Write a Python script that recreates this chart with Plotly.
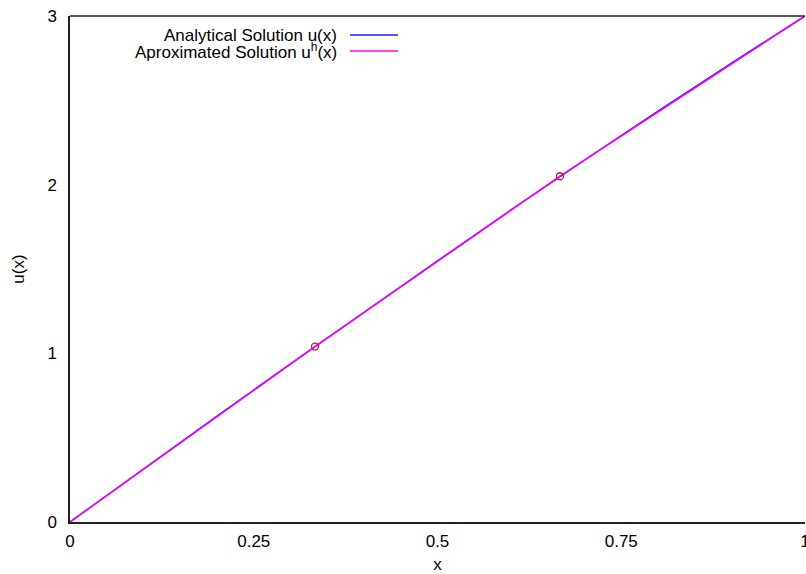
import plotly.graph_objects as go

x_exact = [0.0, 0.1, 0.2, 0.3, 1/3, 0.4, 0.5, 0.6, 2/3, 0.7, 0.8, 0.9, 1.0]
u_exact = [0.0, 0.315, 0.628, 0.938, 1.040, 1.244, 1.548, 1.850, 2.050, 2.146, 2.436, 2.721, 3.0]

# Finite element nodal solution
x_nodes = [0.0, 1/3, 2/3, 1.0]
u_nodes = [0.0, 1.040, 2.050, 3.0]

# Interior node markers
x_marks = [1/3, 2/3]
u_marks = [1.040, 2.050]

x_ticks = [0, 0.25, 0.5, 0.75, 1]
x_ticktext = ["0", "0.25", "0.5", "0.75", "1"]
y_ticks = [0, 1, 2, 3]

FONT = "Liberation Sans, Arial, Helvetica, sans-serif"
FS = 17

L, R, T, B = 70, 1, 16, 52
W, H = 806, 574
PW = W - L - R
PH = H - T - B

fig = go.Figure()
fig.add_trace(go.Scatter(x=x_exact, y=u_exact, mode="lines",
                         line=dict(color="#2020ff", width=1.5),
                         showlegend=False, name="Analytical Solution u(x)"))
fig.add_trace(go.Scatter(x=x_nodes, y=u_nodes, mode="lines",
                         line=dict(color="#ff00ff", width=1.5),
                         showlegend=False, name="Aproximated Solution u^h(x)"))
fig.add_trace(go.Scatter(x=x_marks, y=u_marks, mode="markers",
                         marker=dict(symbol="circle-open", size=7, color="#b02030",
                                     line=dict(width=1.3, color="#b02030")),
                         showlegend=False))

# Manual gnuplot-style legend (text right-aligned, sample line to the right)
legend_items = [("Analytical Solution u(x)", "#2020ff"),
                ("Aproximated Solution u<sup>h</sup>(x)", "#ff00ff")]
for i, (txt, col) in enumerate(legend_items):
    ypix = 35 + 16 * i
    yp = 1 - (ypix - T) / PH
    fig.add_annotation(x=(339 - L) / PW, y=yp, xref="paper", yref="paper",
                       text=txt, showarrow=False, xanchor="right", yanchor="middle",
                       font=dict(family=FONT, size=FS, color="#000000"))
    fig.add_shape(type="line", xref="paper", yref="paper",
                  x0=(350 - L) / PW, x1=(398 - L) / PW, y0=yp, y1=yp,
                  line=dict(color=col, width=1.5))

# top border
fig.add_shape(type="line", xref="paper", yref="paper", x0=0, x1=1, y0=1, y1=1,
              line=dict(color="#222222", width=1.5))

fig.update_layout(
    width=W, height=H,
    margin=dict(l=L, r=R, t=T, b=B, autoexpand=False),
    paper_bgcolor="white", plot_bgcolor="white",
    font=dict(family=FONT, size=FS, color="#000000"),
)
fig.update_xaxes(range=[0, 1], tickvals=x_ticks, ticktext=x_ticktext,
                 showgrid=False, zeroline=False, showline=True, linecolor="#222222", linewidth=1.5,
                 ticks="", automargin=False, ticklabeloverflow="allow", ticklabelstandoff=3,
                 title=dict(text="x", standoff=12, font=dict(size=FS)), tickfont=dict(size=FS))
fig.update_yaxes(range=[0, 3], tickvals=y_ticks, showgrid=False, zeroline=False,
                 showline=True, linecolor="#222222", linewidth=1.5, ticks="",
                 ticklabelstandoff=8, automargin=False, ticklabeloverflow="allow",
                 title=dict(text="u(x)", standoff=18, font=dict(size=FS)), tickfont=dict(size=FS))

fig.write_html("out.html", config={"displayModeBar": False},
               post_script="document.body.style.margin='0';document.body.style.overflow='hidden';")
